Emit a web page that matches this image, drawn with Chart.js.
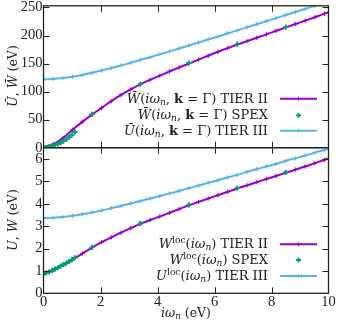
<!DOCTYPE html>
<html>
<head>
<meta charset="UTF-8">
<title>W and U vs Matsubara frequency</title>
<script src="https://cdn.jsdelivr.net/npm/chart.js"></script>
<style>
  body { margin: 0; background: #fff; }
  #wrap { position: relative; width: 343px; height: 324px; font-family: "DejaVu Serif", serif; color: #222; }
  #wrap canvas { position: absolute; left: 0; }
  .leg { position: absolute; right: 75px; font-size: 13px; line-height: 16px; white-space: nowrap; text-align: right; }
  .leg sub, .leg sup, .ttl sub, .ttl sup { font-size: 70%; line-height: 0; }
  .leg sub, .ttl sub { vertical-align: -0.25em; }
  .leg sup { vertical-align: 0.5em; }
  .ttl { position: absolute; font-size: 12.5px; line-height: 16px; white-space: nowrap; }
  .rot { transform: translate(-50%, -50%) rotate(-90deg); }
</style>
</head>
<body>
<div id="wrap">
  <canvas id="top" width="343" height="160" style="top:0"></canvas>
  <canvas id="bot" width="343" height="184" style="top:140px"></canvas>

  <div class="ttl rot" style="left:13px; top:76px;"><i>Ū</i>, <i>W̄</i> (eV)</div>
  <div class="ttl rot" style="left:13px; top:220px;"><i>U</i>, <i>W</i> (eV)</div>
  <div class="ttl" style="left:186px; top:313px; transform: translate(-50%, -50%);"><i>iω<sub>n</sub></i> (eV)</div>

  <div class="leg" style="top:91px;"><i>W̄</i>(<i>iω<sub>n</sub></i>, <b>k</b> = Γ) TIER II</div>
  <div class="leg" style="top:107px;"><i>W̄</i>(<i>iω<sub>n</sub></i>, <b>k</b> = Γ) SPEX</div>
  <div class="leg" style="top:123px;"><i>Ū</i>(<i>iω<sub>n</sub></i>, <b>k</b> = Γ) TIER III</div>

  <div class="leg" style="top:236px;"><i>W</i><sup>loc</sup>(<i>iω<sub>n</sub></i>) TIER II</div>
  <div class="leg" style="top:252px;"><i>W</i><sup>loc</sup>(<i>iω<sub>n</sub></i>) SPEX</div>
  <div class="leg" style="top:268px;"><i>U</i><sup>loc</sup>(<i>iω<sub>n</sub></i>) TIER III</div>
</div>

<script>
  // bosonic Matsubara grid (eV)
  const xGrid = [0, 0.34, 0.68, 1.02, 1.36, 1.7, 2.04, 2.38, 2.72, 3.06, 3.4, 3.74, 4.08, 4.42, 4.76, 5.1,
                 5.44, 5.78, 6.12, 6.46, 6.8, 7.14, 7.48, 7.82, 8.16, 8.5, 8.84, 9.18, 9.52, 9.86, 10.2];

  // top panel, k = Gamma
  const wBarTier2 = [1, 6, 17, 32, 46, 59, 71, 83, 94, 104, 113, 121, 128.5, 136, 143, 150,
                     157, 164, 171, 177.5, 184, 190, 196, 202, 208.5, 214.5, 220.5, 226.5, 232.5, 239, 245];
  const uBarTier3 = [122, 122.5, 124.1, 126.6, 129.8, 133.5, 137.6, 142, 146.6, 151.4, 156.4, 161.4, 166.5, 171.7, 177, 182.3,
                     187.6, 193, 198.3, 203.8, 209.2, 214.6, 220.1, 225.6, 231, 236.5, 242, 247.5, 253, 258.6, 264];
  const xSpex = [0, 0.1, 0.2, 0.3, 0.4, 0.5, 0.6, 0.7, 0.8, 0.9, 1.0, 1.1, 1.7, 3.4, 5.1, 6.8, 8.5];
  const wBarSpex = [0, 0.8, 1.8, 3.1, 4.6, 6.5, 8.8, 11.6, 14.8, 18.6, 23, 28, 59.5, 113.5, 151, 184.5, 215];

  // bottom panel, local
  const wLocTier2 = [0.85, 1.04, 1.26, 1.51, 1.77, 2.04, 2.28, 2.5, 2.71, 2.91, 3.1, 3.27, 3.43, 3.59, 3.76, 3.93,
                     4.08, 4.23, 4.38, 4.53, 4.68, 4.82, 4.96, 5.1, 5.24, 5.38, 5.52, 5.66, 5.81, 5.96, 6.1];
  const uLocTier3 = [3.36, 3.37, 3.41, 3.46, 3.53, 3.61, 3.7, 3.8, 3.9, 4.01, 4.12, 4.23, 4.34, 4.46, 4.57, 4.69,
                     4.81, 4.93, 5.05, 5.17, 5.29, 5.42, 5.54, 5.66, 5.78, 5.91, 6.03, 6.15, 6.28, 6.4, 6.52];
  const wLocSpex = [0.86, 0.91, 0.96, 1.02, 1.08, 1.14, 1.21, 1.28, 1.35, 1.42, 1.5, 1.58, 2.05, 3.12, 3.95, 4.7, 5.4];

  const xTicks = [0, 2, 4, 6, 8, 10];
  const yTicksTop = [0, 50, 100, 150, 200, 250];
  const yTicksBot = [0, 1, 2, 3, 4, 5, 6];

  const PURPLE = '#9400d3', GREEN = '#009e73', BLUE = '#56b4e9';
  const FONT = { family: 'Liberation Serif', size: 14.5 };

  const pts = (xs, ys) => xs.map((x, i) => ({ x: x, y: ys[i] }));

  // frame with inward ticks on all four sides
  const framePlugin = {
    id: 'frame',
    afterDatasetsDraw(chart, args, opts) {
      const { ctx, chartArea: a } = chart;
      const sx = chart.scales.x, sy = chart.scales.y;
      const tl = 6;
      ctx.save();
      ctx.strokeStyle = '#222';
      ctx.lineWidth = 1;
      ctx.beginPath();
      opts.xTicks.forEach(v => {
        if (v <= sx.min || v >= sx.max) return;
        const p = Math.round(sx.getPixelForValue(v)) + 0.5;
        ctx.moveTo(p, a.bottom); ctx.lineTo(p, a.bottom - tl);
        ctx.moveTo(p, a.top); ctx.lineTo(p, a.top + tl);
      });
      opts.yTicks.forEach(v => {
        if (v <= sy.min || v >= sy.max) return;
        const p = Math.round(sy.getPixelForValue(v)) + 0.5;
        ctx.moveTo(a.left, p); ctx.lineTo(a.left + tl, p);
        ctx.moveTo(a.right, p); ctx.lineTo(a.right - tl, p);
      });
      ctx.stroke();
      ctx.lineWidth = 1.3;
      ctx.strokeRect(a.left, a.top, a.right - a.left, a.bottom - a.top);

      // legend samples
      opts.legend.forEach(r => {
        const x0 = 280, x1 = 317, xm = (x0 + x1) / 2;
        ctx.strokeStyle = r.color;
        if (r.line) {
          ctx.lineWidth = 2;
          ctx.beginPath(); ctx.moveTo(x0, r.y); ctx.lineTo(x1, r.y); ctx.stroke();
        }
        ctx.lineWidth = r.line ? 1 : 1.8;
        const s = r.line ? 2 : 2.5;
        ctx.beginPath();
        ctx.moveTo(xm - s, r.y); ctx.lineTo(xm + s, r.y);
        ctx.moveTo(xm, r.y - s); ctx.lineTo(xm, r.y + s);
        ctx.stroke();
      });
      ctx.restore();
    }
  };

  function lineSet(label, data, color) {
    return {
      label: label, data: data, borderColor: color, backgroundColor: color,
      borderWidth: 2, pointStyle: 'cross', pointRadius: 2.2, pointBorderWidth: 1,
      tension: 0.3, showLine: true
    };
  }
  function spexSet(label, data) {
    return {
      label: label, data: data, borderColor: GREEN, backgroundColor: GREEN,
      showLine: false, pointStyle: 'cross', pointRadius: 2.6, pointBorderWidth: 1.8
    };
  }

  function yScale(max, tickVals) {
    return {
      type: 'linear', min: 0, max: max,
      grid: { display: false, drawTicks: false },
      border: { display: false },
      ticks: { font: FONT, color: '#222', padding: 1, autoSkip: false },
      afterBuildTicks(s) { s.ticks = tickVals.map(v => ({ value: v })); },
      afterFit(s) { s.width = 43.5; s.paddingTop = 0; s.paddingBottom = 0; }
    };
  }

  new Chart(document.getElementById('top'), {
    type: 'scatter',
    data: {
      datasets: [
        spexSet('W SPEX', pts(xSpex, wBarSpex)),
        lineSet('W TIER II', pts(xGrid, wBarTier2), PURPLE),
        lineSet('U TIER III', pts(xGrid, uBarTier3), BLUE)
      ]
    },
    options: {
      responsive: false, animation: false, devicePixelRatio: 1,
      layout: { padding: { left: 0, right: 14.5, top: 4.7, bottom: 12.3 } },
      plugins: {
        legend: { display: false }, tooltip: { enabled: false },
        frame: {
          xTicks: xTicks, yTicks: yTicksTop,
          legend: [
            { y: 98.7, color: PURPLE, line: true },
            { y: 115.3, color: GREEN, line: false },
            { y: 130.7, color: BLUE, line: true }
          ]
        }
      },
      scales: {
        x: { type: 'linear', min: 0, max: 10, display: false },
        y: yScale(253, yTicksTop)
      }
    },
    plugins: [framePlugin]
  });

  new Chart(document.getElementById('bot'), {
    type: 'scatter',
    data: {
      datasets: [
        spexSet('Wloc SPEX', pts(xSpex, wLocSpex)),
        lineSet('Wloc TIER II', pts(xGrid, wLocTier2), PURPLE),
        lineSet('Uloc TIER III', pts(xGrid, uLocTier3), BLUE)
      ]
    },
    options: {
      responsive: false, animation: false, devicePixelRatio: 1,
      layout: { padding: { left: 0, right: 14.5, top: 7.7, bottom: 0 } },
      plugins: {
        legend: { display: false }, tooltip: { enabled: false },
        frame: {
          xTicks: xTicks, yTicks: yTicksBot,
          legend: [
            { y: 244.3 - 140, color: PURPLE, line: true },
            { y: 260 - 140, color: GREEN, line: false },
            { y: 276 - 140, color: BLUE, line: true }
          ]
        }
      },
      scales: {
        x: {
          type: 'linear', min: 0, max: 10,
          grid: { display: false, drawTicks: false },
          border: { display: false },
          ticks: { font: FONT, color: '#222', padding: 0, maxRotation: 0, autoSkip: false },
          afterBuildTicks(s) { s.ticks = xTicks.map(v => ({ value: v })); },
          afterFit(s) { s.height = 30.7; s.paddingLeft = 0; s.paddingRight = 0; }
        },
        y: yScale(6.5, yTicksBot)
      }
    },
    plugins: [framePlugin]
  });
</script>
</body>
</html>
